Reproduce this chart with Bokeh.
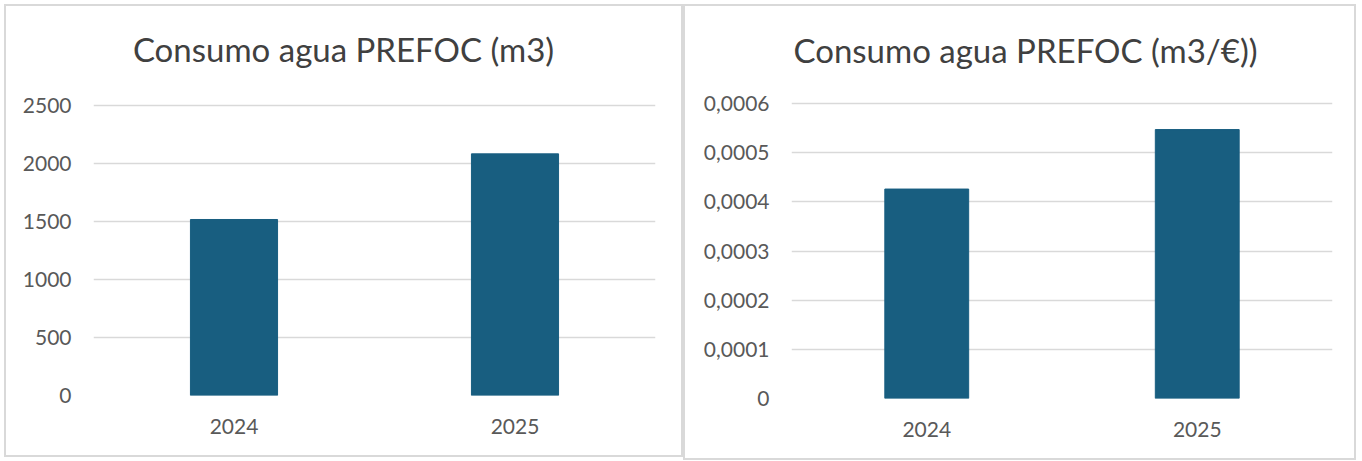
from bokeh.plotting import figure
from bokeh.layouts import row
from bokeh.models import Range1d, FactorRange, FixedTicker, CustomJSTickFormatter, Label
from bokeh.embed import file_html
from bokeh.resources import INLINE

years = ["2024", "2025"]
consumo_m3 = [1515, 2080]
consumo_m3_eur = [0.000426, 0.000547]
ticks_m3 = [0, 500, 1000, 1500, 2000, 2500]
ticks_m3_eur = [0, 0.0001, 0.0002, 0.0003, 0.0004, 0.0005, 0.0006]

BAR = "#185E80"
GRID = "#d9d9d9"
TXT = "#595959"
FONT = "Lato"


def make(title, values, ticks, w, h, bl, br, bt, bb, grid_h, tx, ty, fmt_js):
    # the frame reaches up into the title area; the top tick sits grid_h px above the frame bottom
    frame_h = h - bt - bb
    y_end = ticks[-1] * frame_h / grid_h
    p = figure(x_range=FactorRange(*years, range_padding=0),
               y_range=Range1d(ticks[0], y_end),
               width=w, height=h, output_backend="svg", toolbar_location=None,
               min_border_left=bl, min_border_right=br, min_border_top=bt, min_border_bottom=bb)
    p.vbar(x=years, top=values, width=0.31, color=BAR)
    p.add_layout(Label(x=tx, y=ty, x_units="screen", y_units="screen", text=title,
                       text_font=FONT, text_font_size="33px", text_color="#404040",
                       text_align="center", text_baseline="middle"))
    p.outline_line_color = None
    p.xgrid.grid_line_color = None
    p.ygrid.grid_line_color = GRID
    p.ygrid.grid_line_width = 1.6
    p.yaxis.ticker = FixedTicker(ticks=ticks)
    p.yaxis.formatter = CustomJSTickFormatter(code=fmt_js)
    for ax in (p.xaxis, p.yaxis):
        ax.axis_line_color = None
        ax.major_tick_line_color = None
        ax.minor_tick_line_color = None
        ax.major_label_text_font = FONT
        ax.major_label_text_font_size = "21px"
        ax.major_label_text_color = TXT
    p.yaxis.major_label_standoff = 16
    p.xaxis.major_label_standoff = 17
    p.styles = {"border": "2px solid #d9d9d9", "box-sizing": "border-box"}
    return p


p1 = make("Consumo agua PREFOC (m3)", consumo_m3, ticks_m3, 679, 453, 87, 30, 14, 62, 292, 250, 347,
          "return tick.toString();")
p2 = make("Consumo agua PREFOC (m3/€))", consumo_m3_eur, ticks_m3_eur, 673, 456, 106, 26, 14, 64, 295, 234, 349,
          "return tick == 0 ? '0' : tick.toFixed(4).replace('.', ',');")

layout = row(p1, p2, styles={"margin-left": "4px", "margin-top": "4px"})
open("out.html", "w").write(file_html(layout, INLINE))
